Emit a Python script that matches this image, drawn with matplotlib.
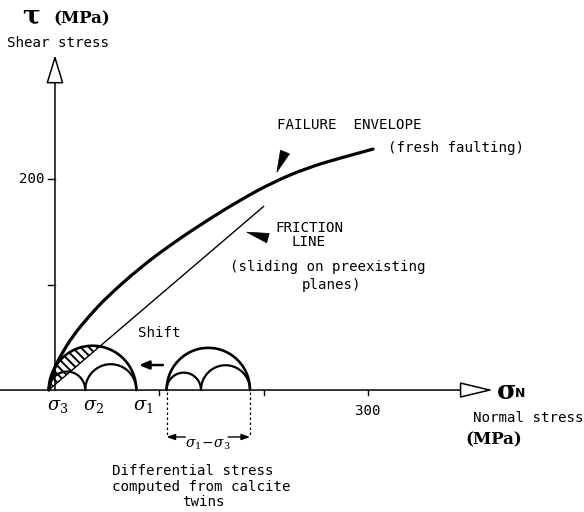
#!/usr/bin/env python3
"""Mohr diagram: failure envelope, friction line and shifted Mohr circles."""

import numpy as np
import matplotlib
matplotlib.use('Agg')
import matplotlib.pyplot as plt
from matplotlib.path import Path
from matplotlib.patches import PathPatch

plt.rcParams['mathtext.fontset'] = 'dejavuserif'
MONO = 'DejaVu Sans Mono'

# --- values (MPa) ---
env_sigma = [-6, -2, 5, 17.5, 33.6, 49.6, 81.5, 113.1, 145.4, 177.4, 209.0, 241.3, 273.2, 304.9]
env_tau = [0, 18, 32, 52, 71, 88, 116, 139.3, 160.5, 180, 197, 210.4, 219.9, 228.4]

fric_sigma = [-6, 200]
fric_tau = [0, 174]

# principal stresses of the circle touching the envelope (left) and
# the circle from calcite twins (right)
left_sig = [-6, 29, 78]      # sigma3, sigma2, sigma1
right_sig = [107, 140, 187]

y_ticks = [100, 200]
x_ticks = [100, 200, 300]


def half_circle(ax, a, b, lw=1.9):
    c, r = (a + b) / 2, (b - a) / 2
    t = np.linspace(0, np.pi, 200)
    ax.plot(c + r * np.cos(t), r * np.sin(t), color='black', lw=lw,
            solid_capstyle='round')


def smooth_path(xs, ys):
    # quadratic bezier through midpoints, read points act as control points
    pts = np.column_stack([xs, ys])
    verts = [pts[0]]
    codes = [Path.MOVETO]
    for i in range(1, len(pts) - 1):
        mid = (pts[i] + pts[i + 1]) / 2 if i < len(pts) - 2 else pts[i + 1]
        verts += [pts[i], mid]
        codes += [Path.CURVE3, Path.CURVE3]
    return Path(verts, codes)


fig = plt.figure(figsize=(5.84, 5.12), dpi=100)
ax = fig.add_axes([0, 0, 1, 1])
ax.set_xlim(-52.7, 507.2)
ax.set_ylim(-115.6, 369.7)
ax.axis('off')

# axes with arrows
ax.annotate('', xy=(420, 0), xytext=(-52.7, 0),
            arrowprops=dict(arrowstyle='-|>,head_length=2.1,head_width=0.5',
                            lw=1.1, fc='white', ec='black', shrinkA=0, shrinkB=0))
ax.annotate('', xy=(0, 317.5), xytext=(0, 0),
            arrowprops=dict(arrowstyle='-|>,head_length=1.8,head_width=0.55',
                            lw=1.1, fc='white', ec='black', shrinkA=0, shrinkB=0))
for t in y_ticks:
    ax.plot([-7, 0], [t, t], color='black', lw=1)
for t in x_ticks:
    ax.plot([t, t], [0, -5], color='black', lw=1)
ax.text(-10.5, 200, '200', family=MONO, fontsize=10.2, ha='right', va='center')
ax.text(300, -19.9, '300', family=MONO, fontsize=10.2, ha='center', va='center')

# envelope and friction line
ax.add_patch(PathPatch(smooth_path(env_sigma, env_tau), facecolor='none',
                       edgecolor='black', lw=2.3, capstyle='round'))
ax.plot(fric_sigma, fric_tau, color='black', lw=1.0)

# Mohr circles
for s3, s2, s1 in (left_sig, right_sig):
    half_circle(ax, s3, s1)
    half_circle(ax, s3, s2, lw=1.6)
    half_circle(ax, s2, s1, lw=1.6)

# hatched segment of the big circle above the friction line
s3, _, s1 = left_sig
c, r = (s1 + s3) / 2, (s1 - s3) / 2
xs = np.linspace(s3, s1, 400)
circ = np.sqrt(np.clip(r ** 2 - (xs - c) ** 2, 0, None))
fric = np.interp(xs, fric_sigma, fric_tau)
plt.rcParams['hatch.linewidth'] = 1.4
ax.fill_between(xs, fric, circ, where=circ > fric, facecolor='none',
                edgecolor='black', hatch='\\\\\\\\', linewidth=0)

# sigma labels
for name, s, dx in zip(['3', '2', '1'], left_sig, [9, 8, 7]):
    ax.text(s + dx, -15.2, rf'$\sigma_{name}$', fontsize=13,
            ha='center', va='center')

# shift arrow
ax.annotate('', xy=(80.5, 23.7), xytext=(103.5, 23.7),
            arrowprops=dict(arrowstyle='-|>,head_length=0.6,head_width=0.25',
                            lw=1.8, color='black', shrinkA=0, shrinkB=0))
ax.text(79.6, 54, 'Shift', family=MONO, fontsize=10.2, ha='left', va='center')

# differential stress bracket
for s in (right_sig[0], right_sig[2]):
    ax.plot([s, s], [-2, -44.5], color='black', lw=0.9, ls=(0, (2, 2)))
ax.annotate('', xy=(right_sig[0], -44.5), xytext=(125, -44.5),
            arrowprops=dict(arrowstyle='-|>,head_length=0.5,head_width=0.18',
                            lw=1.0, color='black', shrinkA=0, shrinkB=0))
ax.annotate('', xy=(right_sig[2], -44.5), xytext=(166, -44.5),
            arrowprops=dict(arrowstyle='-|>,head_length=0.5,head_width=0.18',
                            lw=1.0, color='black', shrinkA=0, shrinkB=0))
ax.text(146.2, -52, r'$\sigma_1\!-\!\sigma_3$', fontsize=10,
        ha='center', va='center')
ax.text(54.6, -76.8, 'Differential stress', family=MONO, fontsize=10.2,
        ha='left', va='center')
ax.text(54.6, -91.9, 'computed from calcite', family=MONO, fontsize=10.2,
        ha='left', va='center')
ax.text(141.9, -106.2, 'twins', family=MONO, fontsize=10.2,
        ha='center', va='center')

# failure envelope label
ax.annotate('', xy=(212.8, 206.6), xytext=(220.5, 225.6),
            arrowprops=dict(arrowstyle='wedge,tail_width=0.7', fc='black',
                            ec='black', lw=0.5, shrinkA=0, shrinkB=0))
ax.text(212.8, 251.2, 'FAILURE  ENVELOPE', family=MONO, fontsize=10.2,
        ha='left', va='center')
ax.text(319.3, 229.4, '(fresh faulting)', family=MONO, fontsize=10.2,
        ha='left', va='center')

# friction line label
ax.annotate('', xy=(184, 149.6), xytext=(204.2, 144),
            arrowprops=dict(arrowstyle='wedge,tail_width=0.7', fc='black',
                            ec='black', lw=0.5, shrinkA=0, shrinkB=0))
ax.text(243.5, 153.6, 'FRICTION', family=MONO, fontsize=10.2,
        ha='center', va='center')
ax.text(243.5, 140.3, 'LINE', family=MONO, fontsize=10.2,
        ha='center', va='center')
ax.text(167.8, 116.6, '(sliding on preexisting', family=MONO, fontsize=10.2,
        ha='left', va='center')
ax.text(265, 99.5, 'planes)', family=MONO, fontsize=10.2,
        ha='center', va='center')

# axis titles
ax.text(-23, 353, r'$\mathbf{\tau}$', fontsize=19, ha='center', va='center')
ax.text(-1.9, 351.7, '(MPa)', family='DejaVu Serif', fontweight='bold',
        fontsize=12, ha='left', va='center')
ax.text(-46, 329, 'Shear stress', family=MONO, fontsize=10.2,
        ha='left', va='center')

ax.text(432, -2, r'$\mathbf{\sigma}$', fontsize=19, ha='center', va='center')
ax.text(446, -3.5, 'N', family='DejaVu Sans', fontweight='bold', fontsize=9,
        ha='center', va='center')
ax.text(400.8, -26.5, 'Normal stress', family=MONO, fontsize=10.2,
        ha='left', va='center')
ax.text(393, -47.4, '(MPa)', family='DejaVu Serif', fontweight='bold',
        fontsize=12, ha='left', va='center')

fig.savefig('out.png', dpi=100, facecolor='white')
